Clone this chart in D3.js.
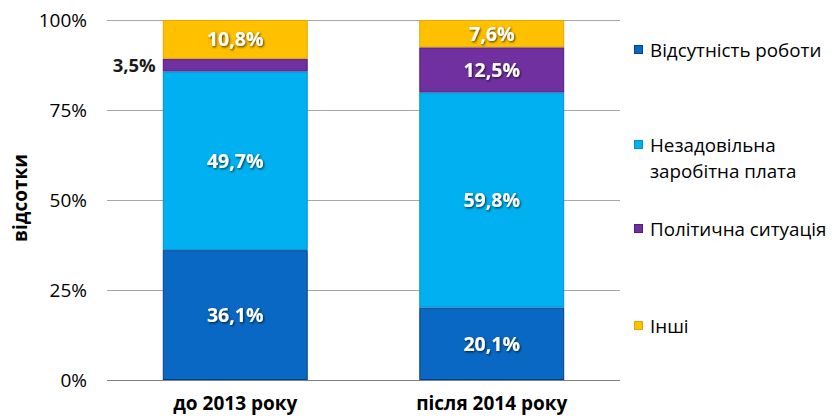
<!DOCTYPE html>
<html><head><meta charset="utf-8">
<script src="https://cdn.jsdelivr.net/npm/d3@7"></script>
<style>body{margin:0;background:#fff}svg{display:block}</style>
</head><body>
<svg id="c" width="832" height="419"></svg>
<script>
const categories = ["до 2013 року", "після 2014 року"];
const seriesNames = ["Відсутність роботи", "Незадовільна заробітна плата", "Політична ситуація", "Інші"];
const legendLines = [["Відсутність роботи"], ["Незадовільна", "заробітна плата"], ["Політична ситуація"], ["Інші"]];
const jobless = [36.1, 20.1];
const salary = [49.7, 59.8];
const political = [3.5, 12.5];
const other = [10.8, 7.6];
const yTicks = [0, 0.25, 0.5, 0.75, 1];
const colors = ["#0968c3", "#00b0f0", "#7030a0", "#ffc000"];
const borders = ["#063f85", "#0590c8", "#4f1f78", "#e0a800"];

const svg = d3.select("#c");
const font = "'Open Sans', 'Noto Sans', sans-serif";
const x = d3.scaleBand().domain(categories).range([107, 620]).paddingInner(0.435).paddingOuter(0.2175);
const y = d3.scaleLinear().domain([0, 1]).range([380, 20]);

const defs = svg.append("defs");
const f = defs.append("filter").attr("id", "sh").attr("x", "-20%").attr("y", "-20%").attr("width", "140%").attr("height", "150%");
f.append("feDropShadow").attr("dx", 1).attr("dy", 1.2).attr("stdDeviation", 0.9).attr("flood-color", "#000").attr("flood-opacity", 0.7);

// gridlines
svg.append("g").selectAll("line").data(yTicks).join("line")
  .attr("x1", 107).attr("x2", 620).attr("y1", d => y(d)).attr("y2", d => y(d))
  .attr("stroke", d => d === 0 ? "#7f7f7f" : "#a6a6a6").attr("stroke-width", 1).attr("shape-rendering", "crispEdges");

// y axis tick labels
const yAxis = d3.axisLeft(y).tickValues(yTicks).tickFormat(d => Math.round(d * 100) + "%").tickSize(0).tickPadding(0);
const ya = svg.append("g").attr("transform", "translate(87,0)").call(yAxis);
ya.select(".domain").remove();
ya.selectAll("text").attr("font-family", font).attr("font-size", 19).attr("fill", "#000").attr("dy", "0.35em");

// stack
const rows = categories.map((c, i) => {
  const vals = [jobless[i], salary[i], political[i], other[i]];
  const tot = d3.sum(vals);
  return { cat: c, s0: jobless[i] / tot, s1: salary[i] / tot, s2: political[i] / tot, s3: other[i] / tot, raw: vals };
});
const stack = d3.stack().keys(["s0", "s1", "s2", "s3"]);
const layers = stack(rows);

const g = svg.append("g");
layers.forEach((layer, k) => {
  g.append("g").selectAll("rect").data(layer).join("rect")
    .attr("x", d => x(d.data.cat) + 0.5).attr("width", x.bandwidth() - 1)
    .attr("y", d => y(d[1]) + 0.5).attr("height", d => y(d[0]) - y(d[1]) - 1)
    .attr("fill", colors[k]).attr("stroke", borders[k]).attr("stroke-width", 1);
});

const fmt = v => String(v).replace(".", ",") + "%";
layers.forEach((layer, k) => {
  layer.forEach((d, i) => {
    const v = d.data.raw[k];
    const h = y(d[0]) - y(d[1]);
    if (h > 20) {
      g.append("text").attr("x", x(d.data.cat) + x.bandwidth() / 2).attr("y", (y(d[0]) + y(d[1])) / 2)
        .attr("dy", "0.36em").attr("text-anchor", "middle").attr("font-family", font).attr("font-weight", "bold")
        .attr("font-size", 19.5).attr("fill", "#fff").attr("filter", "url(#sh)").text(fmt(v));
    } else {
      g.append("text").attr("x", x(d.data.cat) - 7).attr("y", (y(d[0]) + y(d[1])) / 2)
        .attr("dy", "0.36em").attr("text-anchor", "end").attr("font-family", font).attr("font-weight", "bold")
        .attr("font-size", 18.5).attr("fill", "#1a1a1a").text(fmt(v));
    }
  });
});

// x axis labels
const xAxis = d3.axisBottom(x).tickSize(0).tickPadding(0);
const xa = svg.append("g").attr("transform", "translate(0,396)").call(xAxis);
xa.select(".domain").remove();
xa.selectAll("text").attr("font-family", font).attr("font-weight", "bold").attr("font-size", 19).attr("fill", "#000");

// y title
svg.append("text").attr("transform", "translate(27,198) rotate(-90)").attr("text-anchor", "middle")
  .attr("font-family", font).attr("font-weight", "bold").attr("font-size", 19).attr("fill", "#000").text("відсотки");

// legend
const legY = [50, 145, 229, 326];
const lg = svg.append("g");
legendLines.forEach((lines, k) => {
  lg.append("rect").attr("x", 634.5).attr("y", legY[k] - 4.5).attr("width", 8).attr("height", 8)
    .attr("fill", colors[k]).attr("stroke", borders[k]);
  lines.forEach((t, j) => {
    lg.append("text").attr("x", 650).attr("y", legY[k] + j * 26).attr("dy", "0.36em")
      .attr("font-family", font).attr("font-size", 18.8).attr("fill", "#000").text(t);
  });
});
</script>
</body></html>
